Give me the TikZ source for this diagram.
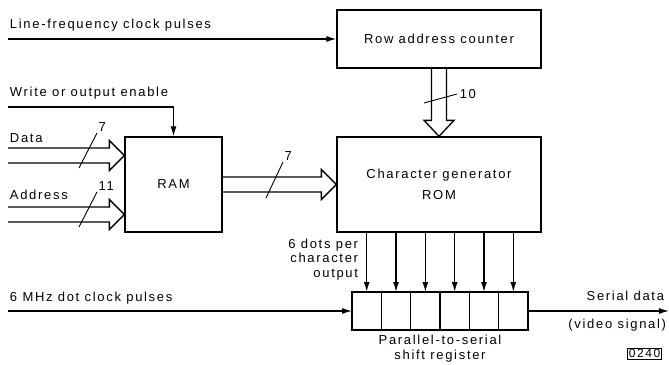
\documentclass[tikz,border=0pt]{standalone}
\usepackage{fontspec}
\setmainfont{Liberation Sans}[LetterSpace=13]
\usetikzlibrary{positioning,calc,arrows.meta}

\begin{document}
\begin{tikzpicture}[x=1pt,y=-1pt,line width=1.3pt,
	font=\fontsize{13}{21}\selectfont,
	block/.style={draw,align=center,inner sep=0pt},
	cell/.style={draw,minimum width=29.33pt,minimum height=38pt,inner sep=0pt,outer sep=0pt},
	wide/.style={to path={($(\tikztostart)+(0,-7.5)$) -- ($(\tikztotarget)+(-15,-7.5)$) -- ++(0,-7.5) -- (\tikztotarget) -- ($(\tikztotarget)+(-15,15)$) -- ++(0,-7.5) -- ($(\tikztostart)+(0,7.5)$)}},
	wide down/.style={to path={($(\tikztostart)+(-7.5,0)$) -- ($(\tikztotarget)+(-7.5,-16)$) -- ++(-7.5,0) -- (\tikztotarget) -- ($(\tikztotarget)+(15,-16)$) -- ++(-7.5,0) -- ($(\tikztostart)+(7.5,0)$)}},
	slash/.style={line width=0.9pt},
	>={Latex[length=10pt,width=6pt]}
	]
	\useasboundingbox (0,0) rectangle (669,364);
	%blocks
	\node[block,minimum width=204pt,minimum height=58pt] (rac) at (439,39) {Row address counter};
	\node[block,minimum width=204pt,minimum height=95pt] (rom) at (439,184.5) {Character generator\\ROM};
	\node[block,minimum width=97pt,minimum height=95pt] (ram) at (173.5,184.5) {RAM};
	%shift register
	\node[cell] (c1) at (366.7,311) {};
	\node[cell,right=0pt of c1] (c2) {};
	\node[cell,right=0pt of c2] (c3) {};
	\node[cell,right=0pt of c3] (c4) {};
	\node[cell,right=0pt of c4] (c5) {};
	\node[cell,right=0pt of c5] (c6) {};
	\node[below=1pt of c3.south east,align=center,font=\fontsize{13}{15}\selectfont] (srlabel) {Parallel-to-serial\\shift register};
	%inputs
	\coordinate (lf) at (8,39);
	\coordinate (we) at (8,107);
	\coordinate (dat) at (8,155.5);
	\coordinate (adr) at (8,214.5);
	\coordinate (dot) at (8,311);
	\coordinate (sout) at (669,311);
	\coordinate (datin) at (ram.west |- dat);
	\coordinate (adrin) at (ram.west |- adr);
	\node[anchor=west] (lflabel) at (6,25) {Line-frequency clock pulses};
	\node[anchor=west] (welabel) at (6,93) {Write or output enable};
	\node[anchor=west] (datlabel) at (6,138) {Data};
	\node[anchor=west] (adrlabel) at (6,195) {Address};
	\node[anchor=west] (dotlabel) at (6,298) {6 MHz dot clock pulses};
	\draw[->] (lf) -- (rac);
	\draw[->] (we) -| (ram);
	\draw (dat) to[wide] (datin);
	\draw (adr) to[wide] (adrin);
	\draw (ram.east) to[wide] (rom.west);
	\draw (rac.south) to[wide down] (rom.north);
	%bus widths
	\draw[slash] (79,168) -- (97,133) node[above right=-3pt] {7};
	\draw[slash] (79,227) -- (97,192) node[above right=-3pt] {11};
	\draw[slash] (266,198) -- (283,162) node[above right=-3pt] {7};
	\draw[slash] (424,103) -- (457,94) node[right=-1pt] {10};
	%parallel outputs
	\draw[->] (rom.south -| c1) -- (c1);
	\draw[->] (rom.south -| c2) -- (c2);
	\draw[->] (rom.south -| c3) -- (c3);
	\draw[->] (rom.south -| c4) -- (c4);
	\draw[->] (rom.south -| c5) -- (c5);
	\draw[->] (rom.south -| c6) -- (c6);
	\node[anchor=north east,align=right,font=\fontsize{13}{14.5}\selectfont] (dotsper) at (362,235) {6 dots per\\character\\output};
	\draw[->] (dot) -- (c1);
	\draw[->] (c6.east) -- (sout);
	\node[anchor=east] (serial) at (668,296) {Serial data};
	\node[anchor=east] (video) at (670,325) {(video signal)};
	\node[draw,line width=0.9pt,inner sep=1.2pt,font=\fontsize{12}{12}\selectfont] (fig) at (644.5,353.5) {0240};
\end{tikzpicture}
\end{document}
